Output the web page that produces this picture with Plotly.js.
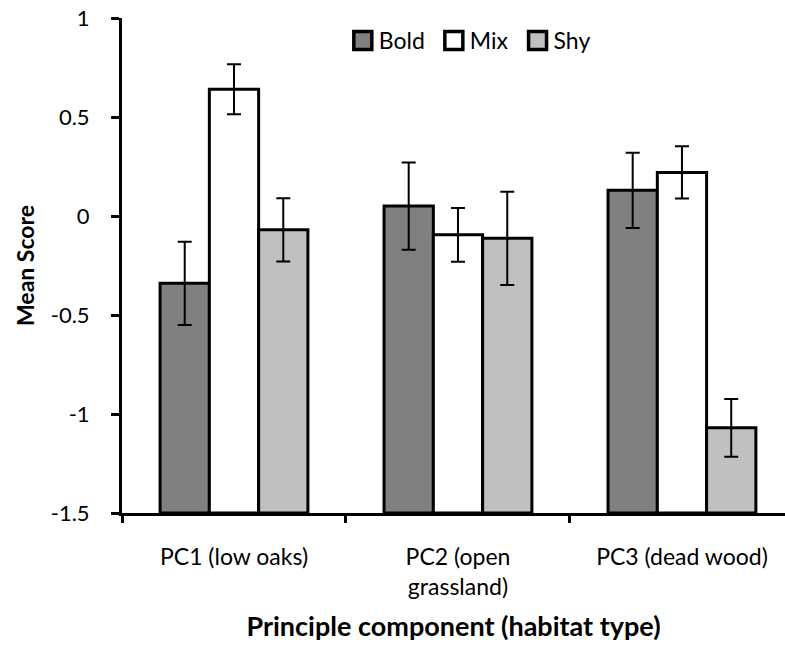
<!DOCTYPE html>
<html>
<head>
<meta charset="utf-8">
<script src="https://cdn.plot.ly/plotly-3.0.1.min.js"></script>
<style>html,body{margin:0;padding:0;background:#fff;}#chart{width:785px;height:651px;}</style>
</head>
<body>
<div id="chart"></div>
<script>
const categories = ["PC1 (low oaks)", "PC2 (open<br>grassland)", "PC3 (dead wood)"];
const seriesNames = ["Bold", "Mix", "Shy"];
const boldMeans = [-0.34, 0.05, 0.13];
const boldErrors = [0.21, 0.22, 0.19];
const mixMeans = [0.64, -0.095, 0.22];
const mixErrors = [0.126, 0.136, 0.132];
const shyMeans = [-0.07, -0.113, -1.07];
const shyErrors = [0.16, 0.236, 0.146];
const yTickVals = [-1.5, -1, -0.5, 0, 0.5, 1];
const yTickText = ["-1.5", "-1", "-0.5", "0", "0.5", "1"];

const axisBase = -1.5;
const colors = ["#808080", "#ffffff", "#c0c0c0"];
const means = [boldMeans, mixMeans, shyMeans];
const errs = [boldErrors, mixErrors, shyErrors];
const FONT = "Lato, 'Open Sans', sans-serif";

const traces = seriesNames.map((name, i) => ({
  type: "bar",
  name: name,
  x: categories,
  y: means[i].map(v => v - axisBase),
  base: axisBase,
  marker: {color: colors[i], line: {color: "#000", width: 3}},
  error_y: {type: "data", array: errs[i], visible: true, color: "#000", thickness: 2, width: 7},
  hoverinfo: "skip"
}));

const layout = {
  width: 785, height: 651,
  margin: {l: 122, r: 0, t: 18, b: 138},
  paper_bgcolor: "#fff", plot_bgcolor: "#fff",
  font: {family: FONT, size: 22, color: "#000"},
  barmode: "group",
  bargap: 0.34,
  bargroupgap: 0,
  showlegend: true,
  legend: {
    orientation: "h", x: 0.327, y: 0.998, xanchor: "left", yanchor: "top",
    font: {family: FONT, size: 23, color: "#000"},
    itemwidth: 30, traceorder: "normal", bgcolor: "rgba(0,0,0,0)"
  },
  xaxis: {
    range: [-0.5, 2.46],
    showline: true, linecolor: "#000", linewidth: 3,
    ticks: "outside", tickson: "boundaries", ticklen: 7, tickwidth: 3, tickcolor: "#000",
    showgrid: false, zeroline: false,
    ticklabelstandoff: 21,
    tickfont: {family: FONT, size: 23},
    title: {text: "<b>Principle component (habitat type)</b>", font: {family: FONT, size: 27}, standoff: 19}
  },
  yaxis: {
    range: [-1.5, 1],
    tickvals: yTickVals, ticktext: yTickText,
    showline: true, linecolor: "#000", linewidth: 3,
    ticks: "outside", ticklen: 8, tickwidth: 3, tickcolor: "#000",
    showgrid: false, zeroline: false,
    ticklabelstandoff: 17,
    tickfont: {family: FONT, size: 22},
    title: {text: "<b>Mean Score</b>", font: {family: FONT, size: 23}, standoff: 10}
  }
};

function styleLegend() {
  document.querySelectorAll("#chart .legend .legendpoints path").forEach(p => {
    p.setAttribute("d", "M9,9H-9V-9H9Z");
    p.style.strokeWidth = "3.5px";
    p.setAttribute("transform", "translate(24,0)");
  });
}

Plotly.newPlot("chart", traces, layout, {staticPlot: true, displayModeBar: false}).then(styleLegend);
</script>
</body>
</html>
